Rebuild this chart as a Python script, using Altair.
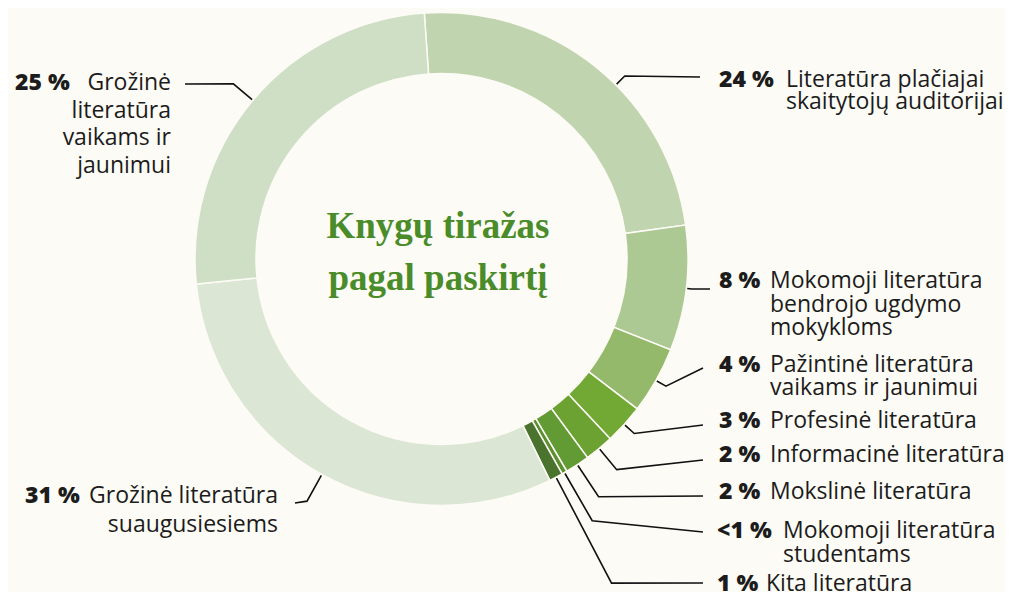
import numpy as np
import pandas as pd
import altair as alt

# ---------------- data ----------------
categories = [
    "Literatūra plačiajai skaitytojų auditorijai",
    "Mokomoji literatūra bendrojo ugdymo mokykloms",
    "Pažintinė literatūra vaikams ir jaunimui",
    "Profesinė literatūra",
    "Informacinė literatūra",
    "Mokslinė literatūra",
    "Mokomoji literatūra studentams",
    "Kita literatūra",
    "Grožinė literatūra suaugusiesiems",
    "Grožinė literatūra vaikams ir jaunimui",
]
shares = [23.9, 8.2, 4.4, 2.6, 1.9, 1.6, 0.35, 0.9, 30.6, 25.5]
pct_labels = ["24 %", "8 %", "4 %", "3 %", "2 %", "2 %", "<1 %", "1 %", "31 %", "25 %"]
label_lines = [
    ["Literatūra plačiajai", "skaitytojų auditorijai"],
    ["Mokomoji literatūra", "bendrojo ugdymo", "mokykloms"],
    ["Pažintinė literatūra", "vaikams ir jaunimui"],
    ["Profesinė literatūra"],
    ["Informacinė literatūra"],
    ["Mokslinė literatūra"],
    ["Mokomoji literatūra", "studentams"],
    ["Kita literatūra"],
    ["Grožinė literatūra", "suaugusiesiems"],
    ["Grožinė", "literatūra", "vaikams ir", "jaunimui"],
]
title_lines = ["Knygų tiražas", "pagal paskirtį"]

# ---------------- styles / layout ----------------
colors = ["#c0d4af", "#adc993", "#95b96a", "#72a834", "#6ba232", "#629a33",
          "#5a9030", "#4a732d", "#dce6d4", "#cfdfc6"]
BG = "#fdfbf5"
TEXT = "#1c1c1c"
GREEN = "#4a8c2a"
FONT = "Open Sans"
FS = 23
M = 8
W, H = 997, 584
CX, CY = 441.5, 259.0
R_OUT, R_IN = 246.5, 185.5
START_DEG = -4.0

side = ["R", "R", "R", "R", "R", "R", "R", "R", "L", "L"]
leader_offset = [6, 0, 0, 0, 0, 0, 0, 0, 0, 0]
elbow_r = [259, 252, 258, 260, 274, 285, 302, 366, 277, 272]
end_x = [700, 710, 703, 703, 703, 703, 703, 703, 295, 185]
end_y = [77, 289, 368, 425, 460, 496, 532, 583, 503, 84]
pct_x = [719, 719, 719, 719, 719, 719, 717, 717, 25, 15]
desc_x = [786, 770, 770, 770, 770, 770, 783, 766, 278, 171]
first_base = [87, 288, 371.5, 428, 461.5, 499, 538, 591, 503, 90]
line_gap = [21.5, 23.5, 23.5, 23.5, 23.5, 23.5, 23.5, 23.5, 28.5, 27.7]

# ---------------- tables ----------------
arc_df = pd.DataFrame({"cat": categories, "share": shares, "idx": list(range(len(categories)))})

total = sum(shares)
cum = np.cumsum([0] + shares[:-1])
rows = []
for i, c in enumerate(categories):
    mid = np.radians(START_DEG + 360 * (cum[i] + shares[i] / 2) / total + leader_offset[i])
    pts = [
        (CX + (R_OUT + 1) * np.sin(mid), CY - (R_OUT + 1) * np.cos(mid)),
        (CX + elbow_r[i] * np.sin(mid), CY - elbow_r[i] * np.cos(mid)),
        (end_x[i], end_y[i]),
    ]
    for k, (px, py) in enumerate(pts):
        rows.append({"cat": c, "k": k, "px": px, "py": py})
lead_df = pd.DataFrame(rows)

pct_df = pd.DataFrame({"t": pct_labels, "px": pct_x, "py": first_base})
desc_rows = []
for i, lines in enumerate(label_lines):
    for j, t in enumerate(lines):
        desc_rows.append({"t": t, "px": desc_x[i], "py": first_base[i] + j * line_gap[i], "side": side[i]})
desc_df = pd.DataFrame(desc_rows)
title_df = pd.DataFrame({"t": title_lines, "px": [438, 438], "py": [238, 290]})

xs = alt.Scale(domain=[M, M + W], nice=False, zero=False)
ys = alt.Scale(domain=[M, M + H], nice=False, zero=False, reverse=True)

arcs = alt.Chart(arc_df).mark_arc(
    innerRadius=R_IN, outerRadius=R_OUT, stroke=BG, strokeWidth=1.5
).encode(
    theta=alt.Theta("share:Q", stack=True,
                    scale=alt.Scale(range=[np.radians(START_DEG), np.radians(START_DEG) + 2 * np.pi])),
    order=alt.Order("idx:Q"),
    color=alt.Color("cat:N", scale=alt.Scale(domain=categories, range=colors), legend=None),
    x=alt.value(CX - M),
    y=alt.value(CY - M),
)

leaders = alt.Chart(lead_df).mark_line(color="#111111", strokeWidth=1.6).encode(
    x=alt.X("px:Q", scale=xs, axis=None),
    y=alt.Y("py:Q", scale=ys, axis=None),
    detail="cat:N",
    order="k:Q",
)

txt = dict(font=FONT, fontSize=FS, baseline="alphabetic", color=TEXT)
pct = alt.Chart(pct_df).mark_text(align="left", fontWeight=800, **txt).encode(
    x=alt.X("px:Q", scale=xs, axis=None), y=alt.Y("py:Q", scale=ys, axis=None), text="t:N")
desc_r = alt.Chart(desc_df[desc_df.side == "R"]).mark_text(align="left", **txt).encode(
    x=alt.X("px:Q", scale=xs, axis=None), y=alt.Y("py:Q", scale=ys, axis=None), text="t:N")
desc_l = alt.Chart(desc_df[desc_df.side == "L"]).mark_text(align="right", **txt).encode(
    x=alt.X("px:Q", scale=xs, axis=None), y=alt.Y("py:Q", scale=ys, axis=None), text="t:N")
title = alt.Chart(title_df).mark_text(
    align="center", baseline="alphabetic", font="Liberation Serif", fontSize=37,
    fontWeight="bold", color=GREEN
).encode(x=alt.X("px:Q", scale=xs, axis=None), y=alt.Y("py:Q", scale=ys, axis=None), text="t:N")

chart = alt.layer(arcs, leaders, pct, desc_r, desc_l, title).properties(
    width=W, height=H, padding=0,
    autosize=alt.AutoSizeParams(type="none"),
    background=BG,
).configure_view(stroke=None)

chart.save("out.html", embed_options={"renderer": "svg", "actions": False})
